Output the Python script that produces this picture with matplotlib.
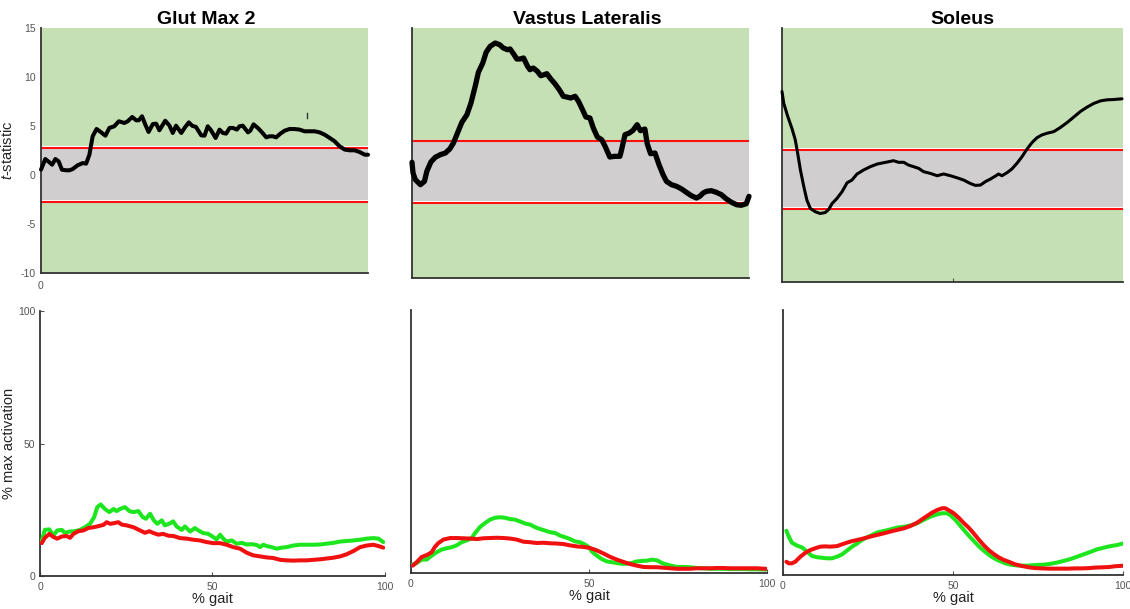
import matplotlib
matplotlib.use("Agg")
import matplotlib.pyplot as plt

plt.rcParams['font.family'] = ['Liberation Sans', 'DejaVu Sans']
plt.rcParams['mathtext.fontset'] = 'custom'
plt.rcParams['mathtext.it'] = 'Liberation Sans:italic'
plt.rcParams['mathtext.rm'] = 'Liberation Sans'
plt.rcParams['axes.unicode_minus'] = False

# ---------------- data ----------------
muscles = ["Glut Max 2", "Vastus Lateralis", "Soleus"]

# SPM t-statistic curves (x: % gait)
gm_t_x = [0, 1.3, 2.6, 3.4, 4.4, 5.4, 6.4, 7.7, 8.7, 9.7, 11.2, 12.8, 13.8, 14.8, 15.8, 17.0, 18.4,
          19.7, 20.9, 22.4, 23.8, 25.5, 26.5, 27.9, 29.1, 29.9, 30.9, 31.9, 32.9, 34.2, 35.2, 36.2,
          38.0, 39.3, 40.3, 41.3, 42.9, 43.9, 45.2, 46.2, 47.4, 49.0, 50.0, 51.0, 52.0, 53.4, 54.6,
          55.6, 56.6, 57.7, 58.7, 59.9, 60.7, 61.7, 63.3, 64.0, 65.0, 66.3, 67.3, 68.9, 69.9, 70.9,
          71.9, 73.2, 74.5, 76.0, 77.6, 79.1, 80.6, 82.1, 83.7, 85.2, 86.7, 88.3, 89.8, 91.3, 92.9,
          94.4, 95.9, 97.4, 99.0, 100]
gm_t_y = [0.54, 1.63, 1.29, 1.05, 1.63, 1.39, 0.54, 0.48, 0.48, 0.61, 0.99, 1.22, 1.16, 2.07, 3.95,
          4.70, 4.35, 4.01, 4.80, 4.97, 5.48, 5.31, 5.48, 5.92, 5.58, 5.58, 5.99, 5.14, 4.39, 5.20,
          5.24, 4.56, 5.54, 5.03, 4.29, 5.03, 4.29, 4.80, 5.37, 5.03, 4.90, 4.05, 4.01, 4.97, 4.56,
          3.78, 4.63, 4.29, 4.22, 4.80, 4.80, 4.63, 4.97, 5.03, 4.35, 4.52, 5.17, 4.80, 4.46, 3.84,
          3.95, 3.95, 3.84, 4.22, 4.52, 4.69, 4.69, 4.63, 4.46, 4.46, 4.46, 4.35, 4.12, 3.78, 3.44,
          2.93, 2.59, 2.52, 2.52, 2.35, 2.07, 2.07]

vl_t_x = [0, 0.3, 1.0, 2.5, 3.7, 4.4, 5.6, 6.9, 8.4, 9.9, 11.2, 12.3, 13.5, 14.8, 16.3, 17.5, 18.8,
          19.7, 21.0, 22.0, 23.2, 24.7, 26.0, 27.1, 28.3, 29.1, 30.3, 31.1, 32.1, 33.1, 34.3, 35.0,
          36.0, 37.2, 38.2, 39.2, 40.0, 41.2, 42.4, 43.7, 44.9, 45.9, 47.1, 48.4, 49.4, 50.6, 51.6,
          52.8, 53.8, 55.0, 56.3, 57.3, 58.7, 60.2, 61.7, 62.2, 63.2, 64.5, 65.6, 66.8, 67.8, 69.1,
          69.8, 70.8, 72.1, 73.3, 74.5, 75.5, 77.0, 78.5, 80.0, 81.4, 82.9, 84.4, 85.4, 86.4, 87.4,
          88.8, 90.3, 91.8, 93.3, 94.8, 96.3, 97.7, 99.2, 100]
vl_t_y = [1.57, 0.5, -0.17, -0.67, -0.33, 0.67, 1.6, 2.07, 2.33, 2.5, 2.9, 3.5, 4.5, 5.57, 6.33,
          7.5, 9.23, 10.57, 11.5, 12.57, 13.17, 13.5, 13.33, 13.0, 12.83, 12.9, 12.33, 11.9, 11.9,
          12.0, 11.17, 10.83, 11.0, 10.67, 10.23, 10.33, 10.43, 9.9, 9.43, 8.83, 8.17, 8.1, 8.0,
          8.17, 7.67, 6.83, 6.1, 6.0, 5.0, 4.1, 3.83, 3.17, 2.1, 2.17, 2.17, 2.83, 4.33, 4.5, 4.77,
          5.33, 4.73, 4.9, 3.43, 2.43, 2.5, 1.33, 0.33, -0.33, -0.67, -0.83, -1.1, -1.43, -1.77,
          -2.0, -1.83, -1.5, -1.33, -1.27, -1.43, -1.67, -2.1, -2.43, -2.67, -2.73, -2.57, -1.83]

so_t_x = [0, 0.5, 1.7, 2.9, 3.9, 4.6, 5.4, 6.4, 7.3, 8.3, 9.8, 11.2, 12.7, 13.7, 14.7, 16.1, 17.6,
          19.1, 20.5, 22.0, 23.9, 25.9, 27.9, 29.8, 31.3, 32.7, 34.2, 35.7, 37.1, 38.6, 40.1, 41.5,
          43.5, 45.5, 47.4, 49.4, 51.3, 53.3, 55.2, 56.7, 58.2, 59.6, 61.1, 62.6, 63.5, 64.5, 66.0,
          67.4, 68.9, 70.4, 71.8, 73.3, 74.8, 76.2, 77.7, 79.7, 81.6, 83.6, 85.5, 87.5, 89.4, 91.4,
          93.4, 95.3, 97.3, 99.7]
so_t_y = [8.75, 7.6, 6.28, 5.13, 3.98, 2.66, 1.02, -0.62, -1.94, -2.76, -3.09, -3.26, -3.16, -2.86,
          -2.27, -1.78, -1.12, -0.23, 0.03, 0.63, 1.02, 1.35, 1.61, 1.74, 1.84, 1.94, 1.78, 1.78,
          1.51, 1.35, 1.18, 0.86, 0.69, 0.46, 0.63, 0.46, 0.26, 0.03, -0.30, -0.49, -0.46, -0.13,
          0.13, 0.43, 0.63, 0.46, 0.76, 1.12, 1.68, 2.34, 3.06, 3.72, 4.21, 4.47, 4.64, 4.80, 5.20,
          5.69, 6.22, 6.78, 7.20, 7.57, 7.83, 7.93, 7.96, 8.03]

# critical thresholds (upper, lower)
gm_thr = [2.76, -2.76]
vl_thr = [3.67, -2.5]
so_thr = [3.0, -2.83]

# mean activation curves (% max activation), green and red groups
gm_g_x = [0.5, 1.4, 2.7, 3.9, 5.0, 6.3, 7.2, 8.7, 10.1, 11.6, 13.0, 14.5, 15.7, 16.6, 17.6, 18.8,
          20.1, 21.3, 22.2, 23.2, 24.6, 25.9, 27.1, 28.5, 29.8, 30.7, 31.9, 33.0, 34.0, 35.3, 36.2,
          37.7, 38.6, 39.6, 41.1, 42.0, 43.5, 44.9, 45.9, 47.3, 48.8, 50.2, 51.2, 52.2, 53.1, 54.1,
          55.6, 57.0, 58.5, 59.9, 61.4, 62.8, 63.8, 64.7, 65.7, 67.1, 68.6, 70.0, 71.5, 73.4, 75.4,
          77.3, 79.2, 81.2, 83.1, 85.0, 87.0, 88.9, 90.8, 92.8, 94.7, 96.6, 98.1, 99.5]
gm_g_y = [13.2, 17.4, 17.6, 15.3, 17.2, 17.4, 16.3, 16.8, 16.9, 17.4, 18.4, 19.7, 22.2, 26.0, 27.0,
          25.3, 24.1, 25.3, 24.5, 25.3, 26.0, 24.5, 24.1, 24.5, 22.2, 21.6, 23.5, 21.0, 19.7, 21.0,
          19.1, 19.9, 20.6, 18.7, 17.4, 18.7, 16.8, 18.1, 17.2, 16.2, 15.9, 14.7, 13.8, 15.6, 14.1,
          13.0, 13.4, 12.2, 12.5, 11.9, 12.0, 11.7, 10.9, 11.8, 11.3, 10.9, 10.3, 10.7, 10.9, 11.5,
          11.8, 11.8, 11.8, 11.9, 12.2, 12.5, 13.0, 13.2, 13.4, 13.7, 14.1, 14.3, 14.1, 12.8]
gm_r_x = [0.5, 1.4, 2.7, 3.9, 5.0, 6.3, 7.7, 8.7, 9.7, 11.1, 12.6, 14.0, 15.5, 16.9, 18.4, 19.3,
          20.3, 21.3, 22.7, 23.7, 25.1, 27.1, 29.0, 30.4, 31.7, 32.9, 34.3, 35.7, 37.2, 38.6, 40.6,
          42.5, 44.4, 46.4, 48.3, 50.2, 52.2, 54.1, 56.0, 58.0, 59.9, 61.8, 63.8, 65.7, 67.6, 69.6,
          71.5, 73.4, 75.4, 77.3, 79.2, 81.2, 83.1, 85.0, 87.0, 88.9, 90.8, 92.8, 94.7, 96.6, 98.1,
          99.5]
gm_r_y = [12.4, 14.4, 15.9, 14.7, 14.1, 14.9, 15.1, 14.4, 15.9, 16.9, 17.2, 18.1, 18.4, 18.8, 19.3,
          20.3, 19.7, 19.9, 20.3, 19.4, 19.1, 18.4, 17.2, 16.3, 16.9, 16.2, 15.6, 15.9, 15.2, 15.1,
          14.3, 14.1, 13.7, 13.4, 12.8, 12.4, 12.4, 11.8, 10.9, 10.3, 8.8, 7.8, 7.4, 7.0, 6.8, 6.1,
          5.9, 5.8, 5.9, 5.9, 6.1, 6.3, 6.6, 6.9, 7.4, 8.2, 9.4, 10.9, 11.5, 11.8, 11.3, 10.7]

vl_g_x = [0.5, 1.6, 3.0, 4.4, 5.8, 7.2, 8.6, 10.0, 11.4, 12.8, 14.2, 15.7, 17.1, 18.0, 19.4, 20.8,
          22.2, 23.6, 25.0, 26.4, 27.8, 29.2, 30.6, 32.1, 33.5, 34.9, 36.3, 37.7, 39.1, 40.5, 41.9,
          43.3, 44.7, 46.1, 47.5, 48.9, 49.9, 50.8, 52.2, 53.6, 55.0, 56.4, 57.8, 59.2, 60.6, 62.0,
          63.4, 64.9, 66.3, 67.7, 69.1, 70.5, 71.9, 73.3, 74.7, 76.6, 78.4, 80.3, 82.2, 84.1, 85.9,
          87.8, 89.7, 91.6, 93.4, 95.3, 97.2, 99.7]
vl_g_y = [3.2, 3.8, 5.1, 5.1, 6.6, 7.9, 8.9, 9.4, 9.8, 10.5, 11.7, 12.4, 13.3, 15.2, 17.5, 19.0,
          20.3, 21.0, 21.2, 21.0, 20.5, 20.3, 19.6, 18.8, 18.4, 17.4, 16.7, 16.1, 15.5, 15.2, 14.2,
          13.6, 12.9, 12.0, 11.7, 10.8, 9.9, 8.2, 6.6, 5.3, 4.4, 4.1, 3.8, 3.5, 3.5, 3.8, 4.4, 4.6,
          4.7, 5.1, 4.8, 3.8, 3.2, 2.7, 2.3, 2.3, 2.2, 1.9, 1.8, 1.6, 1.6, 1.6, 1.5, 1.5, 1.5, 1.4,
          1.4, 1.3]
vl_r_x = [0.5, 1.6, 3.0, 4.4, 5.8, 6.7, 7.7, 9.1, 11.0, 12.8, 14.7, 16.6, 18.5, 20.3, 22.2, 24.1,
          26.0, 27.8, 29.7, 31.6, 33.5, 35.3, 37.2, 39.1, 41.0, 42.8, 44.7, 46.6, 48.5, 50.3, 52.2,
          54.1, 56.0, 57.8, 59.7, 61.6, 63.4, 65.3, 67.2, 69.1, 70.9, 72.8, 74.7, 76.6, 78.4, 80.3,
          82.2, 84.1, 85.9, 87.8, 89.7, 91.6, 93.4, 95.3, 97.2, 99.7]
vl_r_y = [2.8, 4.1, 6.1, 6.8, 7.9, 9.9, 11.4, 12.7, 13.3, 13.3, 13.2, 13.1, 12.9, 13.2, 13.3, 13.4,
          13.3, 13.1, 12.7, 11.9, 11.7, 11.4, 11.5, 11.3, 11.2, 11.0, 10.5, 10.1, 9.9, 9.5, 8.6, 7.4,
          6.1, 5.1, 4.2, 3.4, 2.8, 2.3, 2.2, 2.2, 2.0, 1.8, 1.6, 1.6, 1.6, 1.8, 1.8, 1.8, 1.9, 1.9,
          1.8, 1.8, 1.8, 1.8, 1.8, 1.6]

so_g_x = [1.0, 1.7, 2.6, 4.1, 5.6, 7.1, 8.5, 10.0, 11.5, 12.9, 14.4, 15.9, 17.4, 18.8, 20.3, 21.8,
          23.2, 24.7, 26.2, 27.6, 29.6, 31.6, 33.5, 35.5, 37.5, 39.4, 41.4, 43.3, 45.3, 46.8, 48.2,
          49.2, 50.7, 52.2, 53.6, 55.1, 56.6, 58.0, 59.5, 61.0, 62.5, 63.9, 65.4, 66.9, 68.8, 70.8,
          72.7, 74.7, 76.7, 78.6, 80.6, 82.5, 84.5, 86.5, 88.4, 90.4, 92.4, 94.3, 96.3, 98.2, 100]
so_g_y = [16.7, 14.5, 12.2, 11.1, 10.4, 8.8, 7.2, 6.7, 6.5, 6.3, 6.3, 6.9, 7.8, 9.2, 10.7, 11.9,
          13.2, 14.2, 15.1, 16.0, 16.6, 17.2, 17.9, 18.2, 18.7, 19.5, 20.8, 22.0, 22.9, 23.3, 23.3,
          22.6, 20.8, 18.5, 16.4, 14.2, 12.2, 10.3, 8.7, 7.2, 6.0, 5.2, 4.4, 3.9, 3.6, 3.5, 3.6, 3.8,
          3.9, 4.2, 4.7, 5.3, 6.0, 6.9, 7.8, 8.7, 9.7, 10.3, 10.9, 11.3, 11.9]
so_r_x = [1.0, 1.7, 2.6, 3.6, 5.1, 6.6, 8.0, 9.5, 11.0, 12.5, 13.9, 15.9, 17.4, 18.8, 20.3, 21.8,
          23.7, 25.7, 27.6, 29.6, 31.6, 33.5, 35.5, 37.5, 39.4, 40.9, 42.4, 43.8, 45.3, 46.8, 47.7,
          48.7, 50.2, 51.7, 53.1, 54.6, 56.1, 57.5, 59.0, 60.5, 62.0, 63.4, 64.9, 66.4, 68.3, 70.3,
          72.3, 74.2, 76.2, 78.1, 80.1, 82.1, 84.0, 86.0, 87.9, 89.9, 91.9, 93.8, 95.8, 97.7, 100]
so_r_y = [5.0, 4.4, 4.4, 5.0, 6.9, 8.4, 9.4, 10.1, 10.7, 10.8, 10.7, 10.9, 11.6, 12.2, 12.8, 13.2,
          13.8, 14.5, 15.1, 15.7, 16.4, 17.0, 17.6, 18.5, 19.7, 21.0, 22.3, 23.5, 24.5, 25.2, 25.2,
          24.5, 23.3, 21.6, 19.7, 17.9, 15.7, 13.5, 11.3, 9.4, 7.9, 6.7, 5.7, 5.0, 4.0, 3.4, 2.9,
          2.6, 2.5, 2.4, 2.4, 2.4, 2.4, 2.5, 2.5, 2.6, 2.8, 2.9, 3.0, 3.3, 3.5]

t_ylim = [-10, 15]
t_yticks = [-10, -5, 0, 5, 10, 15]
act_ticks = [0, 50, 100]

# ---------------- styling ----------------
GREEN_BG = "#c5e0b4"
GRAY_BG = "#d0cece"
THR_RED = "#ff1010"
LINE_GREEN = "#1ee61e"
LINE_RED = "#f01010"
TICK_GRAY = "#555555"
SPINE = "#333333"

W, H = 1130, 609
fig = plt.figure(figsize=(W / 100, H / 100), dpi=100)


def px_axes(x0, y0, x1, y1):
    """Axes from pixel box (left, top, right, bottom)."""
    return fig.add_axes([x0 / W, 1 - y1 / H, (x1 - x0) / W, (y1 - y0) / H])


def style(ax):
    for s in ("top", "right"):
        ax.spines[s].set_visible(False)
    for s in ("left", "bottom"):
        ax.spines[s].set_color(SPINE)
        ax.spines[s].set_linewidth(1.3)
    ax.tick_params(colors=TICK_GRAY, labelsize=7.5, direction="in", length=3, width=0.8)


top_boxes = [(41, 28, 368, 273), (412, 28, 749, 278), (782, 28, 1123, 282)]
bot_boxes = [(40, 311, 385, 576), (411, 310, 767, 573), (783, 310, 1123, 575)]
title_x = [206, 587, 962]

t_series = [(gm_t_x, gm_t_y, gm_thr, 2.9), (vl_t_x, vl_t_y, vl_thr, 3.8), (so_t_x, so_t_y, so_thr, 2.2)]
act_series = [(gm_g_x, gm_g_y, gm_r_x, gm_r_y), (vl_g_x, vl_g_y, vl_r_x, vl_r_y),
              (so_g_x, so_g_y, so_r_x, so_r_y)]

for i in range(3):
    # ---- SPM t-statistic panel ----
    x0, y0, x1, y1 = top_boxes[i]
    ax = px_axes(x0, y0, x1, y1)
    style(ax)
    tx, ty, thr, lw = t_series[i]
    ax.set_xlim(0, 100)
    ax.set_ylim(*t_ylim)
    ax.axhspan(t_ylim[0], thr[1], color=GREEN_BG, lw=0, zorder=0)
    ax.axhspan(thr[1], thr[0], color=GRAY_BG, lw=0, zorder=0)
    ax.axhspan(thr[0], t_ylim[1], color=GREEN_BG, lw=0, zorder=0)
    for v in thr:
        ax.axhline(v + 0.18, color="white", lw=0.8, zorder=1)
        ax.axhline(v, color=THR_RED, lw=1.5, zorder=2)
    ax.plot(tx, ty, color="black", lw=lw, solid_joinstyle="round", solid_capstyle="round",
            zorder=3, clip_on=False)
    if i == 0:
        ax.set_yticks(t_yticks)
        ax.set_yticklabels([str(v) for v in t_yticks])
        ax.set_xticks([0])
        ax.tick_params(length=0, pad=4)
        ax.tick_params(axis="x", pad=6)
        ax.set_ylabel(r"$\mathit{t}$-statistic", fontsize=10.5, color="#222222")
        ax.yaxis.set_label_coords((15 - x0) / (x1 - x0), 0.5)
        ax.plot([81.3, 81.3], [5.8, 6.3], color="#333333", lw=1.0, zorder=3)
    else:
        ax.set_yticks([])
        ax.set_xticks([50] if i == 2 else [])
        ax.set_xticklabels([])
    fig.text(title_x[i] / W, 1 - 20 / H, muscles[i], ha="center", va="center",
             fontsize=14, fontweight="bold", color="black")

    # ---- activation panel ----
    bx0, by0, bx1, by1 = bot_boxes[i]
    ax2 = px_axes(bx0, by0, bx1, by1)
    style(ax2)
    gx, gy, rx, ry = act_series[i]
    ax2.plot(gx, gy, color=LINE_GREEN, lw=2.9, solid_capstyle="round", zorder=3)
    ax2.plot(rx, ry, color=LINE_RED, lw=2.9, solid_capstyle="round", zorder=4)
    ax2.set_xlim(0, 100)
    ax2.set_ylim(0, 100)
    ax2.set_xticks(act_ticks)
    ax2.tick_params(axis="x", pad=4)
    if i == 0:
        ax2.set_yticks(act_ticks)
        ax2.set_ylabel("% max activation", fontsize=10.5, color="#222222")
        ax2.yaxis.set_label_coords((16 - bx0) / (bx1 - bx0), 0.5)
    else:
        ax2.set_yticks([])
    ax2.set_xlabel("% gait", fontsize=10.5, color="#222222", labelpad=0)

fig.savefig("out.png", dpi=100)
